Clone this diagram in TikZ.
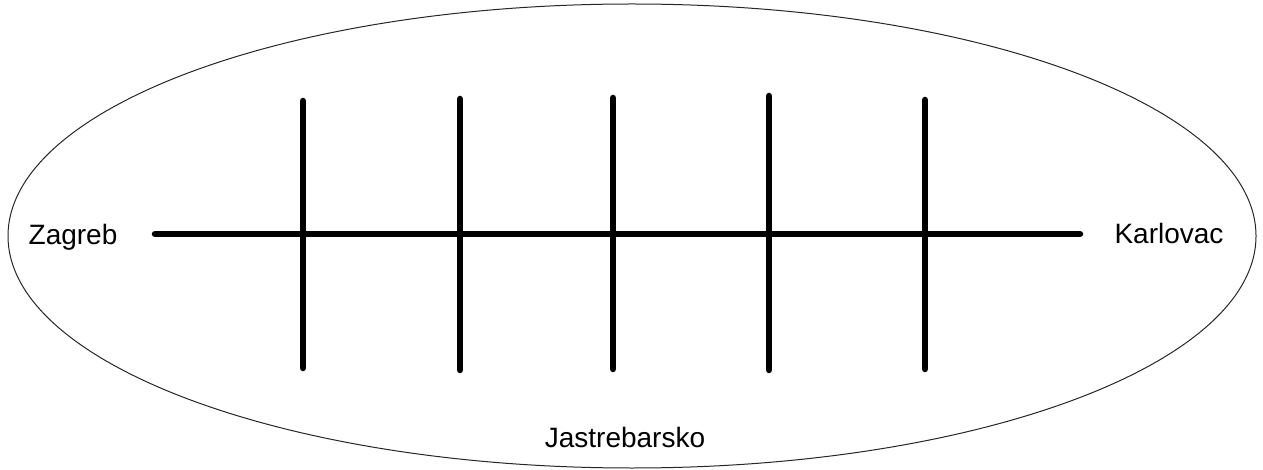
\documentclass[tikz,border=0pt]{standalone}
\usepackage{fontspec}
\setmainfont{Liberation Sans}
\begin{document}
\begin{tikzpicture}[x=1pt,y=-1pt,
  city/.style={anchor=base,inner sep=0pt,font=\fontsize{28}{32}\selectfont},
  road/.style={line width=6.5pt,line cap=round},
  region/.style={draw=black!85,line width=1pt}]
\useasboundingbox (0,0) rectangle (1263,470);
\draw[region] (632,236) ellipse [x radius=624, y radius=232];
\node[city] (zg) at (73,245) {Zagreb};
\node[city] (ka) at (1169,244) {Karlovac};
\node[city] (ja) at (625,447) {Jastrebarsko};
\coordinate (hs) at (155,234);
\coordinate (he) at (1080,234);
\draw[road] (hs) -- (he);
\foreach \i/\x/\t/\b in {1/303/101/368, 2/460/99/370, 3/613/98/369, 4/769/96/370, 5/925/100/369}{
  \coordinate (t\i) at (\x,\t);
  \coordinate (b\i) at (\x,\b);
  \draw[road] (t\i) -- (b\i);
}
\end{tikzpicture}
\end{document}
